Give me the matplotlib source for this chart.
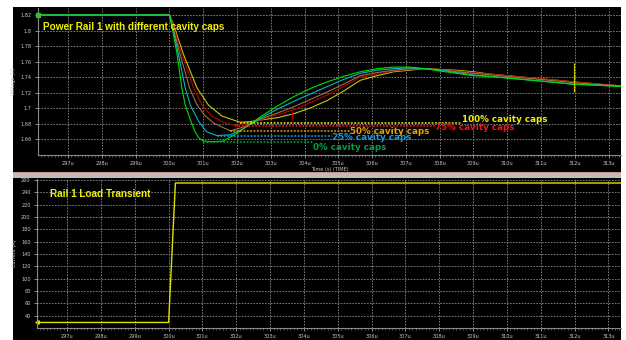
import numpy as np
import matplotlib
matplotlib.use("Agg")
import matplotlib.pyplot as plt
from matplotlib.patches import Rectangle
from matplotlib.ticker import MultipleLocator, FixedLocator

# voltage traces, time in us, voltage in V
t_0 = [296.11, 300.0, 300.1, 300.23, 300.37, 300.47, 300.64, 300.76, 300.87, 301.0, 301.3, 301.6,
       302.0, 302.4, 302.69, 303.2, 303.68, 304.2, 304.67, 305.15, 305.65, 306.15, 306.63,
       307.1, 307.57, 308.0, 308.5, 309.0, 309.5, 310.0, 310.5, 311.0, 311.5, 311.95, 312.5,
       313.0, 313.35]
v_0 = [1.82, 1.82, 1.80, 1.769, 1.726, 1.704, 1.683, 1.670, 1.662, 1.658, 1.657, 1.658,
       1.668, 1.680, 1.689, 1.703, 1.715, 1.726, 1.734, 1.741, 1.747, 1.751, 1.753,
       1.753, 1.751, 1.748, 1.745, 1.742, 1.741, 1.739, 1.737, 1.735, 1.733, 1.731, 1.730,
       1.729, 1.728]

t_25 = [296.11, 300.0, 300.1, 300.27, 300.47, 300.62, 300.87, 301.1, 301.4, 301.8, 302.2,
        302.69, 303.2, 303.68, 304.2, 304.67, 305.15, 305.65, 306.15, 306.63, 307.1, 307.57,
        308.0, 308.5, 309.0, 309.5, 310.0, 310.5, 311.0, 311.5, 311.95, 312.5, 313.0, 313.35]
v_25 = [1.82, 1.82, 1.803, 1.769, 1.726, 1.704, 1.683, 1.670, 1.665, 1.666, 1.674,
        1.687, 1.699, 1.709, 1.719, 1.728, 1.737, 1.745, 1.749, 1.751, 1.752, 1.751,
        1.749, 1.746, 1.743, 1.741, 1.739, 1.737, 1.735, 1.733, 1.731, 1.730, 1.729, 1.728]

t_50 = [296.11, 300.0, 300.1, 300.32, 300.6, 300.82, 301.05, 301.31, 301.8, 302.2, 302.69, 303.2,
        303.68, 304.2, 304.67, 305.15, 305.65, 306.15, 306.63, 307.1, 307.57, 308.0, 308.5,
        309.0, 309.5, 310.0, 310.5, 311.0, 311.5, 311.95, 312.5, 313.0, 313.35]
v_50 = [1.82, 1.82, 1.805, 1.769, 1.726, 1.704, 1.691, 1.681, 1.671, 1.676, 1.686, 1.694,
        1.702, 1.712, 1.721, 1.731, 1.742, 1.746, 1.749, 1.751, 1.751, 1.750, 1.747,
        1.745, 1.743, 1.741, 1.739, 1.737, 1.735, 1.733, 1.731, 1.730, 1.729]

t_75 = [296.11, 300.0, 300.1, 300.37, 300.72, 300.97, 301.25, 301.6, 301.95, 302.3, 302.69, 303.2,
        303.68, 304.2, 304.67, 305.15, 305.65, 306.15, 306.63, 307.1, 307.57, 308.0, 308.5,
        309.0, 309.5, 310.0, 310.5, 311.0, 311.5, 311.95, 312.5, 313.0, 313.35]
v_75 = [1.82, 1.82, 1.808, 1.769, 1.726, 1.704, 1.690, 1.682, 1.678, 1.680, 1.685, 1.692,
        1.698, 1.708, 1.717, 1.728, 1.740, 1.744, 1.748, 1.750, 1.751, 1.750, 1.748,
        1.746, 1.744, 1.742, 1.740, 1.738, 1.736, 1.734, 1.732, 1.730, 1.729]

t_100 = [296.11, 300.0, 300.1, 300.42, 300.82, 301.16, 301.56, 302.1, 302.4, 302.69, 303.2,
         303.68, 304.2, 304.67, 305.15, 305.65, 306.15, 306.63, 307.1, 307.57, 308.0, 308.5,
         309.0, 309.5, 310.0, 310.5, 311.0, 311.5, 311.95, 312.5, 313.0, 313.35]
v_100 = [1.82, 1.82, 1.81, 1.769, 1.726, 1.704, 1.690, 1.682, 1.683, 1.685, 1.688,
         1.693, 1.701, 1.710, 1.722, 1.736, 1.742, 1.747, 1.749, 1.751, 1.750, 1.749,
         1.747, 1.744, 1.742, 1.740, 1.738, 1.736, 1.734, 1.732, 1.730, 1.729]

# minimum of each trace and where its label sits
cap_names = ["100% cavity caps", "75% cavity caps", "50% cavity caps",
             "25% cavity caps", "0% cavity caps"]
min_t = [302.1, 301.95, 301.8, 301.4, 301.0]
min_v = [1.6816, 1.6777, 1.6713, 1.6649, 1.6564]
label_t = [308.66, 307.87, 305.36, 304.81, 304.26]
label_v = [1.6859, 1.6748, 1.6700, 1.6623, 1.6500]

# load current step, A
t_load = [296.11, 300.0, 300.2, 313.35]
i_load = [29, 29, 255, 255]

trace_colors = ["#c8c800", "#b00000", "#a07040", "#00b8c8", "#00e000"]
label_colors = ["#f0f000", "#ff1010", "#e8a000", "#10a0e0", "#00a040"]
grid_col = "#8a8a8a"
tick_col = "#c8c8c8"

fig = plt.figure(figsize=(6.26, 3.40), dpi=100, facecolor="white")
W, H = 626, 340

def fig_rect(x0, y0, x1, y1, color):
    r = Rectangle((x0 / W, 1 - y1 / H), (x1 - x0) / W, (y1 - y0) / H,
                  transform=fig.transFigure, color=color, zorder=-5, linewidth=0)
    fig.patches.append(r)

fig_rect(13, 7, 621, 172, "black")
fig_rect(13, 172, 621, 178, "#bdbdbd")
fig_rect(13, 172, 621, 172.6, "#d09090")
fig_rect(13, 178, 621, 340, "black")

def style_axes(ax, yticks, ylabel):
    ax.set_facecolor("black")
    ax.set_xlim(296.11, 313.37)
    ax.xaxis.set_major_locator(FixedLocator(range(297, 314)))
    ax.set_xticklabels([f"{k}u" for k in range(297, 314)])
    ax.xaxis.set_minor_locator(MultipleLocator(0.1))
    ax.set_yticks(yticks)
    ax.grid(True, which="major", color=grid_col, linestyle=(0, (2, 1.5)), linewidth=0.6)
    ax.tick_params(colors=tick_col, labelsize=3.6, length=2, width=0.5, pad=2.5)
    ax.tick_params(which="minor", colors=grid_col, length=1.2, width=0.4)
    for s in ["top", "right"]:
        ax.spines[s].set_visible(False)
    for s in ["left", "bottom"]:
        ax.spines[s].set_color(grid_col)
        ax.spines[s].set_linewidth(0.8)
    ax.set_xlabel("Time (s) (TIME)", color=tick_col, fontsize=3.6, labelpad=0.5)
    ax.set_ylabel(ylabel, color=tick_col, fontsize=3.6, labelpad=3)

# voltage panel
ax1 = fig.add_axes([38 / W, 1 - 155 / H, 583 / W, 147 / H])
style_axes(ax1, [1.66, 1.68, 1.70, 1.72, 1.74, 1.76, 1.78, 1.80, 1.82], "Voltage (V)")
ax1.set_yticklabels(["1.66", "1.68", "1.7", "1.72", "1.74", "1.76", "1.78", "1.8", "1.82"])
ax1.set_ylim(1.640, 1.829)

traces = [(t_100, v_100), (t_75, v_75), (t_50, v_50), (t_25, v_25), (t_0, v_0)]
for (tt, vv), c in zip(traces, trace_colors):
    ax1.plot(tt, vv, color=c, linewidth=0.8)
ax1.plot(t_0[0], v_0[0], marker="s", color="#00e000", markersize=2.5, clip_on=False)

for name, t0, v0, t1, v1, c in zip(cap_names, min_t, min_v, label_t, label_v, label_colors):
    ax1.hlines(v0, t0, t1, colors=c, linestyles=(0, (1.2, 1.0)), linewidth=1.1)
    ax1.text(t1, v1, name, color=c, fontsize=6.3, fontweight="bold",
             va="center", ha="left", family="DejaVu Sans")

# cursor markers on traces
ax1.vlines(303.63, 1.685, 1.697, colors="#b00000", linewidth=0.9)
ax1.vlines(311.98, 1.721, 1.758, colors="#c8c800", linewidth=0.9)

ax1.text(0.008, 0.87, "Power Rail 1 with different cavity caps", transform=ax1.transAxes,
         color="#f0f000", fontsize=7.2, fontweight="bold", family="Liberation Sans",
         va="center", ha="left")

# current panel
ax2 = fig.add_axes([37 / W, 1 - 327.7 / H, 584 / W, 148.7 / H])
style_axes(ax2, list(range(40, 261, 20)), "Current (A)")
ax2.set_ylim(20.5, 261.5)
ax2.plot(t_load, i_load, color="#e0e000", linewidth=1.0)
ax2.plot(t_load[0], i_load[0], marker="<", color="#e0e000", markersize=2.5, clip_on=False)
ax2.text(0.022, 0.9, "Rail 1 Load Transient", transform=ax2.transAxes,
         color="#f0f000", fontsize=7.2, fontweight="bold", family="Liberation Sans",
         va="center", ha="left")

fig.savefig("out.png", dpi=100, facecolor="white")
